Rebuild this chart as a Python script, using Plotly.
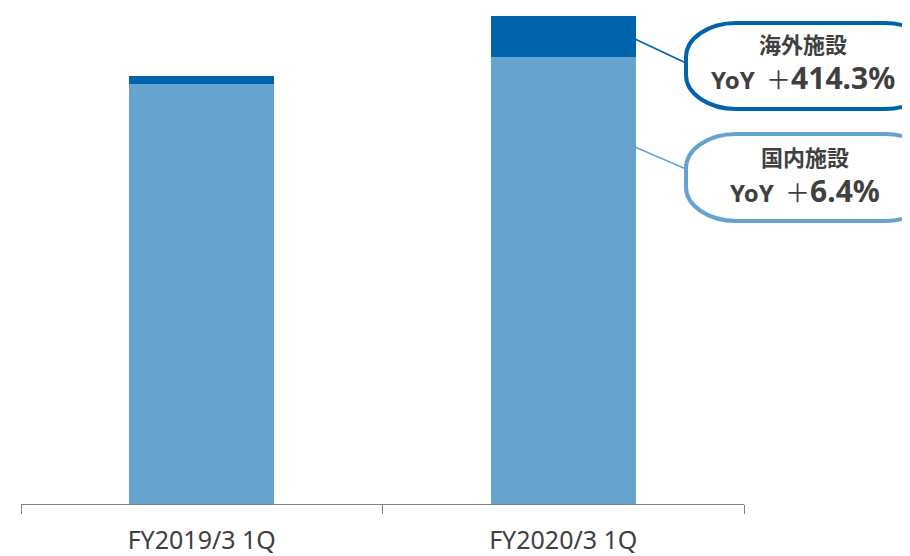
import plotly.graph_objects as go

categories = ["FY2019/3 1Q", "FY2020/3 1Q"]
domestic = [420, 447]
overseas = [8, 41]
domestic_label = ["国内施設", "YoY", "＋", "6.4%"]
overseas_label = ["海外施設", "YoY", "＋", "414.3%"]

# page has an 8px body margin; figure sized to fill the rest
OFF = 8
W, H = 910 - OFF, 556 - OFF
PL, PR, PT, PB = 21, 744, 10, 504  # plot area in page pixels
ML, MR, MT, MB = PL - OFF, 910 - PR, PT - OFF, 556 - PB
PW, PH = PR - PL, PB - PT

LIGHT = "#66A3CF"
DARK = "#0064AD"
TXT = "#404040"

def px(x):
    return (x - PL) / PW

def py(y):
    return (PB - y) / PH

fig = go.Figure()
fig.add_bar(x=categories, y=domestic, marker_color=LIGHT, marker_line_width=0, name="国内施設")
fig.add_bar(x=categories, y=overseas, marker_color=DARK, marker_line_width=0, name="海外施設")

def rounded(x0, y0, x1, y1, rx, ry):
    kx, ky = 0.55 * rx, 0.55 * ry
    pts = [
        f"M {px(x0 + rx)},{py(y0)}",
        f"L {px(x1 - rx)},{py(y0)}",
        f"C {px(x1 - rx + kx)},{py(y0)} {px(x1)},{py(y0 + ry - ky)} {px(x1)},{py(y0 + ry)}",
        f"L {px(x1)},{py(y1 - ry)}",
        f"C {px(x1)},{py(y1 - ry + ky)} {px(x1 - rx + kx)},{py(y1)} {px(x1 - rx)},{py(y1)}",
        f"L {px(x0 + rx)},{py(y1)}",
        f"C {px(x0 + rx - kx)},{py(y1)} {px(x0)},{py(y1 - ry + ky)} {px(x0)},{py(y1 - ry)}",
        f"L {px(x0)},{py(y0 + ry)}",
        f"C {px(x0)},{py(y0 + ry - ky)} {px(x0 + rx - kx)},{py(y0)} {px(x0 + rx)},{py(y0)}",
        "Z",
    ]
    return " ".join(pts)

shapes = []
shapes.append(dict(type="line", xref="paper", yref="paper", x0=px(635), y0=py(39), x1=px(686), y1=py(63),
                   line=dict(color=DARK, width=1.5)))
shapes.append(dict(type="line", xref="paper", yref="paper", x0=px(635), y0=py(147), x1=px(686), y1=py(169),
                   line=dict(color=LIGHT, width=1.5)))
shapes.append(dict(type="path", xref="paper", yref="paper", path=rounded(686, 23, 935, 109, 50, 34),
                   line=dict(color=DARK, width=4), fillcolor="white"))
shapes.append(dict(type="path", xref="paper", yref="paper", path=rounded(686, 134, 935, 221, 50, 34),
                   line=dict(color=LIGHT, width=4), fillcolor="white"))
fig.update_layout(shapes=shapes)

CJK = "Noto Sans CJK JP"
LAT = "Noto Sans"

def callout(lbl):
    return (f"<b><span style='font-size:22px; font-family:\"{CJK}\"'>{lbl[0]}</span></b><br>"
            f"<b><span style='font-size:24px; font-family:\"{LAT}\"'>{lbl[1]}</span></b>"
            f"<span style='font-size:25px; font-family:\"{CJK}\"'>  {lbl[2]}</span>"
            f"<b><span style='font-size:30px; font-family:\"{LAT}\"'>{lbl[3]}</span></b>")

annos = [
    dict(x=px(803), y=py(63), text=callout(overseas_label)),
    dict(x=px(805), y=py(175), text=callout(domestic_label)),
]
for a in annos:
    fig.add_annotation(x=a["x"], y=a["y"], xref="paper", yref="paper", text=a["text"], showarrow=False,
                       xanchor="center", yanchor="middle", align="center",
                       font=dict(family=LAT, size=28, color=TXT))

fig.update_layout(
    width=W, height=H,
    margin=dict(l=ML, r=MR, t=MT, b=MB, autoexpand=False),
    barmode="stack",
    bargap=0.6,
    showlegend=False,
    plot_bgcolor="white",
    paper_bgcolor="white",
    xaxis=dict(showline=True, linecolor="#7f7f7f", linewidth=1, ticks="outside", tickson="boundaries",
               ticklen=9, tickcolor="#7f7f7f", tickwidth=1, ticklabelstandoff=14, automargin=False,
               tickfont=dict(family=LAT, size=25, color=TXT),
               showgrid=False),
    yaxis=dict(range=[0, PH], visible=False, showgrid=False),
)

fig.write_html("out.html")
